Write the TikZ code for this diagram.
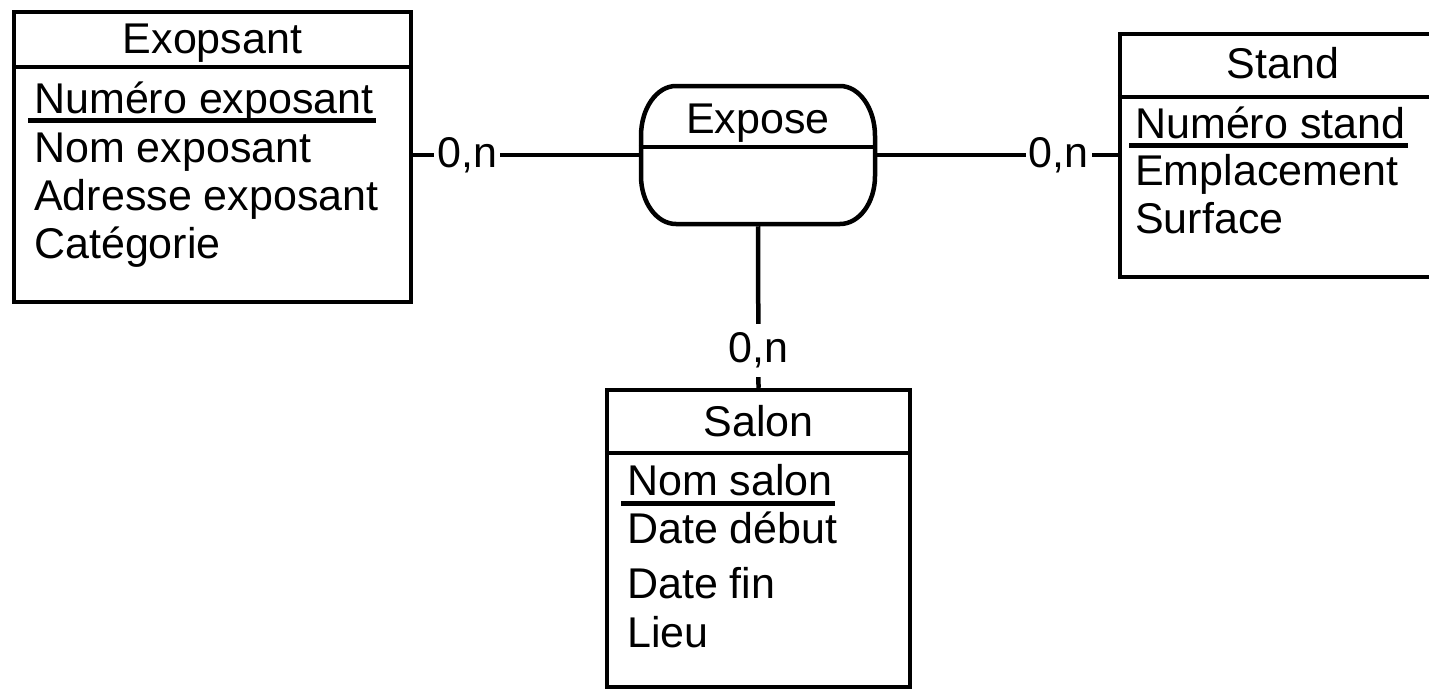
\documentclass[tikz,border=0pt]{standalone}
\usepackage{fontspec}
\setmainfont{Liberation Sans}
\usetikzlibrary{calc}
\newcommand{\dfont}{\fontsize{43}{48}\selectfont}
\begin{document}
\begin{tikzpicture}[x=1pt,y=-1pt,line width=4.5pt,
  box/.style={draw,line width=4.5pt,rectangle,inner sep=0pt},
  ghost/.style={rectangle,inner sep=0pt},
  attr/.style={anchor=base west,inner sep=0pt,font=\dfont},
  ttl/.style={anchor=base,inner sep=0pt,font=\dfont},
  card/.style={fill=white,inner xsep=3pt,inner ysep=9pt,font=\dfont},
  uline/.style={line width=5pt}]
\useasboundingbox (0,0) rectangle (1429,688);
\clip (0,0) rectangle (1429,688);
\fill[white] (0,0) rectangle (1429,688);

% Exposant entity
\node[box,minimum width=397pt,minimum height=290pt] (exposant) at (212.5,157) {};
\node[ttl] (exposantT) at (212.5,53) {Exopsant};
\draw (exposant.west |- 0,67) -- (exposant.east |- 0,67);
\node[attr] (ex1) at (32,113) {Numéro exposant};
\node[attr] (ex2) at (32,162) {Nom exposant};
\node[attr] (ex3) at (32,210) {Adresse exposant};
\node[attr] (ex4) at (32,258) {Catégorie};
\draw[uline] ($(ex1.base west)+(-4,7)$) -- ($(ex1.base east)+(0,7)$);

% Stand entity
\node[box,minimum width=340pt,minimum height=243pt] (stand) at (1290,155.5) {};
\node[ttl] (standT) at (1283,78) {Stand};
\draw (stand.west |- 0,97) -- (stand.east |- 0,97);
\node[attr] (st1) at (1133,138) {Numéro stand};
\node[attr] (st2) at (1133,185) {Emplacement};
\node[attr] (st3) at (1133,233) {Surface};
\draw[uline] ($(st1.base west)+(-4,7)$) -- ($(st1.base east)+(0,7)$);

% Salon entity
\node[box,minimum width=303pt,minimum height=297pt] (salon) at (758.5,538.5) {};
\node[ttl] (salonT) at (758.5,436) {Salon};
\draw (salon.west |- 0,453) -- (salon.east |- 0,453);
\node[attr] (sa1) at (625,495) {Nom salon};
\node[attr] (sa2) at (625,543) {Date début};
\node[attr] (sa3) at (625,598) {Date fin};
\node[attr] (sa4) at (625,647) {Lieu};
\draw[uline] ($(sa1.base west)+(-4,8)$) -- ($(sa1.base east)+(0,8)$);

% Expose association
\node[ghost,minimum width=234pt,minimum height=138pt] (expose) at (758,155) {};
\draw (676,86) -- (840,86)
  arc[start angle=-90,end angle=0,x radius=35,y radius=50] -- (875,176)
  arc[start angle=0,end angle=90,x radius=35,y radius=48] -- (676,224)
  arc[start angle=90,end angle=180,x radius=35,y radius=48] -- (641,136)
  arc[start angle=180,end angle=270,x radius=35,y radius=50] -- cycle;
\draw (expose.west |- 0,147) -- (expose.east |- 0,147);
\node[ttl] (exposeT) at (758,133) {Expose};

% Connectors
\draw (exposant.east |- expose.west) -- node[card,pos=0.24] (c1) {0,n} (expose.west);
\draw (expose.east) -- node[card,pos=0.755] (c2) {0,n} (stand.west |- expose.east);
\draw (expose.south) -- node[card,pos=0.77] (c3) {0,n} (salon.north);
\end{tikzpicture}
\end{document}
